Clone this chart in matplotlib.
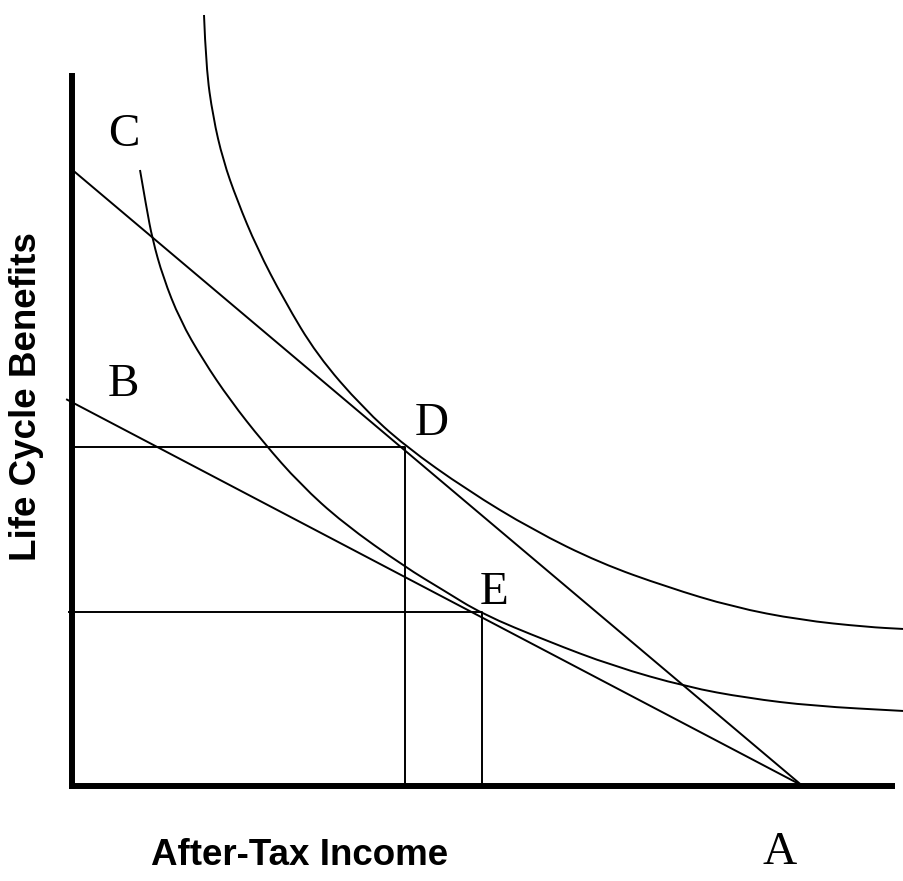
import matplotlib
matplotlib.use("Agg")
import matplotlib.pyplot as plt
from matplotlib.path import Path
from matplotlib.patches import PathPatch

# diagram units: origin at the corner of the axes, x = after-tax income, y = life cycle benefits
x_axis_end = 82.25
y_axis_top = 71.25

# budget lines (intercepts)
c_intercept = 61.55
b_intercept = 38.3
a_intercept = 72.95
b_line_start = -0.55

# tangency points
d_point = (33.25, 33.85)
e_point = (40.95, 17.4)

# higher indifference curve (through D)
outer_x = [13.15, 13.35, 14.05, 15.05, 16.45, 18.45, 21.15, 24.45, 29.05, 33.25,
           39.45, 46.05, 52.75, 59.45, 66.05, 72.75, 79.45, 83.15]
outer_y = [77.05, 71.85, 66.85, 62.55, 58.55, 53.75, 48.55, 43.05, 37.75, 33.95,
           29.55, 25.55, 22.25, 19.85, 17.85, 16.55, 15.85, 15.65]

# lower indifference curve (through E)
inner_x = [6.75, 7.4, 8.0, 9.05, 10.75, 13.05, 15.75, 19.05, 22.75, 27.05, 33.25,
           37.05, 40.95, 47.45, 54.05, 61.45, 67.45, 74.05, 83.15]
inner_y = [61.55, 57.75, 54.6, 50.85, 46.55, 42.55, 38.55, 34.35, 30.15, 26.25, 21.85,
           19.55, 17.15, 14.45, 11.95, 9.85, 8.75, 7.95, 7.45]

point_labels = ["C", "B", "D", "E", "A"]
label_x = [5.12, 5.05, 35.92, 42.15, 70.7]
label_y = [63.95, 38.9, 35.05, 18.15, -7.85]


def smooth_curve(xs, ys):
    # quadratic bezier through the midpoints of the read points
    verts = [(xs[0], ys[0])]
    codes = [Path.MOVETO]
    for i in range(1, len(xs) - 1):
        verts.append((xs[i], ys[i]))
        verts.append(((xs[i] + xs[i + 1]) / 2, (ys[i] + ys[i + 1]) / 2))
        codes += [Path.CURVE3, Path.CURVE3]
    verts.append((xs[-1], ys[-1]))
    codes.append(Path.LINETO)
    return Path(verts, codes)


fig = plt.figure(figsize=(9.04, 8.81), dpi=100)
ax = fig.add_axes([0, 0, 1, 1])
ax.set_xlim(-7.25, 83.15)
ax.set_ylim(-9.55, 78.55)
ax.axis("off")

lw = 1.4

# thick axes
ax.plot([0, 0], [-0.3, y_axis_top], color="black", lw=4.3, solid_capstyle="butt")
ax.plot([-0.35, x_axis_end], [0, 0], color="black", lw=4.3, solid_capstyle="butt")

# budget lines
ax.plot([0, a_intercept], [c_intercept, 0], color="black", lw=lw)
ax.plot([b_line_start, a_intercept],
        [b_intercept * (1 - b_line_start / a_intercept), 0], color="black", lw=lw)

# drop lines from D and E
ax.plot([0.25, d_point[0], d_point[0]], [d_point[1], d_point[1], 0], color="black", lw=lw)
ax.plot([-0.35, e_point[0], e_point[0]], [e_point[1], e_point[1], 0], color="black", lw=lw)

# indifference curves
for xs, ys in [(outer_x, outer_y), (inner_x, inner_y)]:
    ax.add_patch(PathPatch(smooth_curve(xs, ys), fill=False, edgecolor="black", lw=lw))

for lab, lx, ly in zip(point_labels, label_x, label_y):
    ax.text(lx, ly, lab, ha="center", va="baseline", fontsize=34,
            family="Liberation Serif")

ax.text(-4.55, 38.85, "Life Cycle Benefits", rotation=90, ha="center", va="center",
        fontsize=26.5, fontweight="bold", family="Liberation Sans")
ax.text(22.75, -7.0, "After-Tax Income", ha="center", va="center",
        fontsize=26.5, fontweight="bold", family="Liberation Sans")

fig.savefig("out.png", dpi=100)
